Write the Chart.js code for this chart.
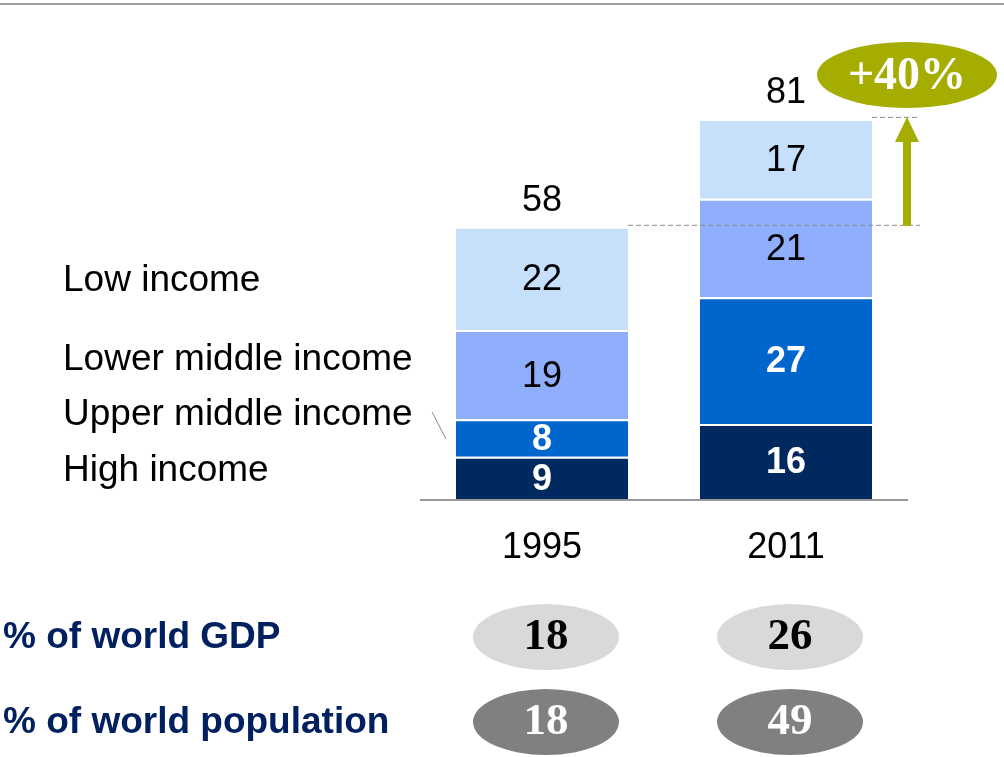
<!DOCTYPE html>
<html>
<head>
<meta charset="utf-8">
<script src="https://cdn.jsdelivr.net/npm/chart.js@4/dist/chart.umd.min.js"></script>
<style>
html,body{margin:0;padding:0;background:#fff;}
#wrap{width:1004px;height:757px;position:relative;}
</style>
</head>
<body>
<div id="wrap"><canvas id="c" width="1004" height="757"></canvas></div>
<script>
const categories = ['1995', '2011'];
const seriesNames = ['High income', 'Upper middle income', 'Lower middle income', 'Low income'];
const highIncome = [9, 16];
const upperMiddleIncome = [8, 27];
const lowerMiddleIncome = [19, 21];
const lowIncome = [22, 17];
const totals = [58, 81];
const growthLabel = '+40%';
const gdpShare = [18, 26];
const populationShare = [18, 49];
const rowLabels = ['% of world GDP', '% of world population'];

const colors = ['#002A5F', '#0066CC', '#8FAEFB', '#C6DFFA'];
const labelColors = ['#ffffff', '#ffffff', '#000000', '#000000'];
const labelBold = [true, true, false, false];
const seriesData = [highIncome, upperMiddleIncome, lowerMiddleIncome, lowIncome];
const legendY = [471, 415, 360, 281];

const SANS = '"Liberation Sans", Arial, sans-serif';
const SERIF = '"Liberation Serif", "DejaVu Serif", serif';

function ellipse(ctx, cx, cy, rx, ry, fill) {
  ctx.beginPath();
  ctx.ellipse(cx, cy, rx, ry, 0, 0, Math.PI * 2);
  ctx.fillStyle = fill;
  ctx.fill();
}

const decor = {
  id: 'decor',
  beforeDatasetsDraw(chart) {
    const ctx = chart.ctx;
    ctx.save();
    ctx.fillStyle = '#a0a0a0';
    ctx.fillRect(0, 3, 1004, 2);
    ctx.restore();
  },
  afterDatasetsDraw(chart) {
    const ctx = chart.ctx;
    const x = chart.scales.x, y = chart.scales.y;
    const area = chart.chartArea;
    ctx.save();
    // baseline
    ctx.strokeStyle = '#999999';
    ctx.lineWidth = 2;
    ctx.beginPath();
    ctx.moveTo(area.left, y.getPixelForValue(0) + 1);
    ctx.lineTo(area.right, y.getPixelForValue(0) + 1);
    ctx.stroke();

    // segment labels
    seriesData.forEach((arr, di) => {
      const meta = chart.getDatasetMeta(di);
      meta.data.forEach((bar, i) => {
        ctx.font = (labelBold[di] ? 'bold ' : '') + '36px ' + SANS;
        ctx.fillStyle = labelColors[di];
        ctx.textAlign = 'center';
        ctx.textBaseline = 'middle';
        ctx.fillText(String(arr[i]), bar.x, (bar.y + bar.base) / 2 + 2);
      });
    });

    // totals
    const topMeta = chart.getDatasetMeta(seriesData.length - 1);
    ctx.font = '36px ' + SANS;
    ctx.fillStyle = '#000';
    ctx.textAlign = 'center';
    ctx.textBaseline = 'middle';
    totals.forEach((t, i) => {
      ctx.fillText(String(t), topMeta.data[i].x, y.getPixelForValue(t) - 26);
    });

    // category labels
    categories.forEach((c, i) => {
      ctx.fillText(c, x.getPixelForValue(i), 548);
    });

    // legend labels on left
    ctx.font = '37px ' + SANS;
    ctx.textAlign = 'left';
    seriesNames.forEach((n, i) => {
      ctx.fillText(n, 63, legendY[i]);
    });
    ctx.strokeStyle = '#888';
    ctx.lineWidth = 1;
    ctx.beginPath();
    ctx.moveTo(432, 412);
    ctx.lineTo(446, 439);
    ctx.stroke();

    // dashed guide lines
    const bw = topMeta.data[0].width;
    const y58 = y.getPixelForValue(totals[0]);
    const y81 = y.getPixelForValue(totals[1]);
    const arrowX = x.getPixelForValue(1) + 121;
    ctx.strokeStyle = '#8c8c8c';
    ctx.setLineDash([5, 3]);
    ctx.lineWidth = 1;
    ctx.beginPath();
    ctx.moveTo(topMeta.data[0].x + bw / 2, y58 - 1.5);
    ctx.lineTo(arrowX + 13, y58 - 1.5);
    ctx.moveTo(topMeta.data[1].x + bw / 2, y81 - 1.5);
    ctx.lineTo(arrowX + 13, y81 - 1.5);
    ctx.stroke();
    ctx.setLineDash([]);

    // arrow
    const olive = '#A4AD00';
    ctx.fillStyle = olive;
    ctx.fillRect(arrowX - 4, y81 + 22, 8, y58 - y81 - 23);
    ctx.beginPath();
    ctx.moveTo(arrowX, y81 - 2);
    ctx.lineTo(arrowX + 12, y81 + 23);
    ctx.lineTo(arrowX - 12, y81 + 23);
    ctx.closePath();
    ctx.fill();

    // growth ellipse
    ellipse(ctx, arrowX, 75, 90, 33, olive);
    ctx.font = 'bold 46px ' + SERIF;
    ctx.fillStyle = '#fff';
    ctx.textAlign = 'center';
    ctx.textBaseline = 'middle';
    ctx.fillText(growthLabel, arrowX, 77);

    // bottom rows
    ctx.font = 'bold 37px ' + SANS;
    ctx.fillStyle = '#002060';
    ctx.textAlign = 'left';
    ctx.fillText(rowLabels[0], 3, 638);
    ctx.fillText(rowLabels[1], 3, 723);

    categories.forEach((c, i) => {
      const cx = x.getPixelForValue(i) + 4;
      ellipse(ctx, cx, 637, 73, 33, '#D9D9D9');
      ellipse(ctx, cx, 722, 73, 33, '#808080');
      ctx.font = 'bold 45px ' + SERIF;
      ctx.textAlign = 'center';
      ctx.fillStyle = '#000';
      ctx.fillText(String(gdpShare[i]), cx, 637);
      ctx.fillStyle = '#fff';
      ctx.fillText(String(populationShare[i]), cx, 722);
    });
    ctx.restore();
  }
};

new Chart(document.getElementById('c'), {
  type: 'bar',
  data: {
    labels: categories,
    datasets: seriesData.map((d, i) => ({
      label: seriesNames[i],
      data: d,
      backgroundColor: colors[i],
      borderColor: '#ffffff',
      borderWidth: {top: 2, left: 0, right: 0, bottom: 0},
      borderSkipped: false,
      categoryPercentage: 1,
      barPercentage: 0.705
    }))
  },
  options: {
    responsive: false,
    animation: false,
    layout: {padding: {left: 420, right: 96, top: 117, bottom: 258}},
    plugins: {legend: {display: false}, tooltip: {enabled: false}},
    scales: {
      x: {stacked: true, display: false},
      y: {stacked: true, display: false, min: 0, max: 81.4}
    }
  },
  plugins: [decor]
});
</script>
</body>
</html>
